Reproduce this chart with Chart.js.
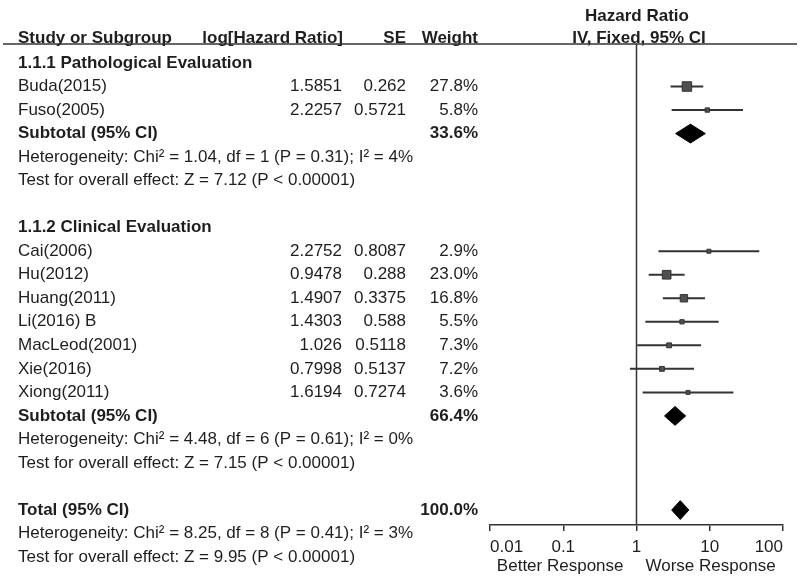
<!DOCTYPE html>
<html>
<head>
<meta charset="utf-8">
<script src="https://cdn.jsdelivr.net/npm/chart.js@4/dist/chart.umd.min.js"></script>
<style>
  html, body { margin: 0; padding: 0; background: #fff; }
  #wrap { width: 800px; height: 579px; }
</style>
</head>
<body>
<div id="wrap"><canvas id="forest" width="800" height="579"></canvas></div>
<script>
// table data
const studies = ['Buda(2015)', 'Fuso(2005)', 'Cai(2006)', 'Hu(2012)', 'Huang(2011)', 'Li(2016) B', 'MacLeod(2001)', 'Xie(2016)', 'Xiong(2011)'];
const logHR = [1.5851, 2.2257, 2.2752, 0.9478, 1.4907, 1.4303, 1.026, 0.7998, 1.6194];
const se = [0.262, 0.5721, 0.8087, 0.288, 0.3375, 0.588, 0.5118, 0.5137, 0.7274];
const weights = [27.8, 5.8, 2.9, 23.0, 16.8, 5.5, 7.3, 7.2, 3.6];
const studyRows = [1, 2, 8, 9, 10, 11, 12, 13, 14];

const groupTitles = ['1.1.1 Pathological Evaluation', '1.1.2 Clinical Evaluation'];
const groupRows = [0, 7];

const pooledLabels = ['Subtotal (95% CI)', 'Subtotal (95% CI)', 'Total (95% CI)'];
const pooledRows = [3, 15, 19];
const pooledWeight = ['33.6%', '66.4%', '100.0%'];
const pooledHR = [5.45, 3.36, 3.96];
const pooledLo = [3.42, 2.41, 3.02];
const pooledHi = [8.70, 4.69, 5.19];

const statLines = [
  'Heterogeneity: Chi\u00b2 = 1.04, df = 1 (P = 0.31); I\u00b2 = 4%',
  'Test for overall effect: Z = 7.12 (P < 0.00001)',
  'Heterogeneity: Chi\u00b2 = 4.48, df = 6 (P = 0.61); I\u00b2 = 0%',
  'Test for overall effect: Z = 7.15 (P < 0.00001)',
  'Heterogeneity: Chi\u00b2 = 8.25, df = 8 (P = 0.41); I\u00b2 = 3%',
  'Test for overall effect: Z = 9.95 (P < 0.00001)'
];
const statRows = [4, 5, 16, 17, 20, 21];

const xTicks = [0.01, 0.1, 1, 10, 100];
const yTop = -0.807, yBottom = 19.64;

const FONT = '"Liberation Sans", Arial, sans-serif';
const INK = '#1e1e1e';

// 95% CI on the HR scale
const hr = logHR.map(v => Math.exp(v));
const lo = logHR.map((v, i) => Math.exp(v - 1.96 * se[i]));
const hi = logHR.map((v, i) => Math.exp(v + 1.96 * se[i]));

const whiskers = [];
studyRows.forEach((r, i) => {
  whiskers.push({ x: lo[i], y: r }, { x: hi[i], y: r }, { x: null, y: null });
});

const squares = studyRows.map((r, i) => ({ x: hr[i], y: r }));
const squareRadius = weights.map(w => Math.max(4, 1.8 * Math.sqrt(w)) / Math.SQRT2);

const diamondSets = pooledRows.map((r, i) => ({
  data: [
    { x: pooledLo[i], y: r },
    { x: pooledHR[i], y: r - 0.4 },
    { x: pooledHi[i], y: r },
    { x: pooledHR[i], y: r + 0.4 },
    { x: pooledLo[i], y: r }
  ],
  showLine: true,
  fill: 'shape',
  backgroundColor: '#000',
  borderColor: '#000',
  borderWidth: 1,
  pointRadius: 0,
  tension: 0
}));

// left-hand table + header drawn on the canvas
const tableText = {
  id: 'tableText',
  afterDraw(chart) {
    const ctx = chart.ctx;
    const y = chart.scales.y;
    const area = chart.chartArea;
    const reg = '17px ' + FONT;
    const bold = 'bold 17px ' + FONT;

    const put = (txt, x, py, align, font) => {
      ctx.font = font;
      ctx.textAlign = align;
      ctx.fillText(txt, x, py);
    };

    ctx.save();
    ctx.fillStyle = INK;

    // header
    ctx.textBaseline = 'alphabetic';
    put('Study or Subgroup', 18, 43, 'left', bold);
    put('log[Hazard Ratio]', 343, 43, 'right', bold);
    put('SE', 406, 43, 'right', bold);
    put('Weight', 478, 43, 'right', bold);
    put('Hazard Ratio', 637, 21, 'center', bold);
    put('IV, Fixed, 95% CI', 639, 43, 'center', bold);

    ctx.strokeStyle = '#333';
    ctx.lineWidth = 1.5;
    ctx.beginPath();
    ctx.moveTo(3, area.top);
    ctx.lineTo(797, area.top);
    ctx.stroke();

    ctx.textBaseline = 'middle';
    groupRows.forEach((r, i) => put(groupTitles[i], 18, y.getPixelForValue(r), 'left', bold));
    studyRows.forEach((r, i) => {
      const py = y.getPixelForValue(r);
      put(studies[i], 18, py, 'left', reg);
      put(String(logHR[i]), 342, py, 'right', reg);
      put(String(se[i]), 406, py, 'right', reg);
      put(weights[i].toFixed(1) + '%', 478, py, 'right', reg);
    });
    pooledRows.forEach((r, i) => {
      const py = y.getPixelForValue(r);
      put(pooledLabels[i], 18, py, 'left', bold);
      put(pooledWeight[i], 478, py, 'right', bold);
    });
    statRows.forEach((r, i) => put(statLines[i], 18, y.getPixelForValue(r), 'left', reg));

    // favours labels
    const one = chart.scales.x.getPixelForValue(1);
    put('Better Response', one - 13, 566, 'right', reg);
    put('Worse Response', one + 9, 566, 'left', reg);
    ctx.restore();
  }
};

new Chart(document.getElementById('forest'), {
  type: 'scatter',
  data: {
    datasets: [
      {
        data: squares,
        pointStyle: 'rect',
        pointRadius: squareRadius,
        backgroundColor: '#505050',
        borderColor: '#333',
        borderWidth: 1
      },
      ...diamondSets,
      {
        data: whiskers,
        showLine: true,
        borderColor: '#333',
        borderWidth: 2,
        pointRadius: 0,
        spanGaps: false
      },
      {
        data: [{ x: 1, y: yTop }, { x: 1, y: yBottom }],
        showLine: true,
        borderColor: '#333',
        borderWidth: 1.5,
        pointRadius: 0
      }
    ]
  },
  options: {
    responsive: false,
    animation: false,
    layout: { padding: { left: 490, right: 17, top: 44, bottom: 14.5 } },
    plugins: {
      legend: { display: false },
      tooltip: { enabled: false }
    },
    scales: {
      x: {
        type: 'logarithmic',
        min: 0.01,
        max: 100,
        afterBuildTicks: s => { s.ticks = xTicks.map(v => ({ value: v })); },
        ticks: {
          color: INK,
          font: { family: FONT, size: 17 },
          align: 'inner',
          padding: 6.5,
          maxRotation: 0,
          autoSkip: false,
          callback: v => String(v)
        },
        grid: { drawOnChartArea: false, tickLength: 6, color: '#333', lineWidth: 1.5 },
        border: { color: '#333', width: 1.5 }
      },
      y: {
        type: 'linear',
        reverse: true,
        min: yTop,
        max: yBottom,
        display: false
      }
    }
  },
  plugins: [tableText]
});
</script>
</body>
</html>
